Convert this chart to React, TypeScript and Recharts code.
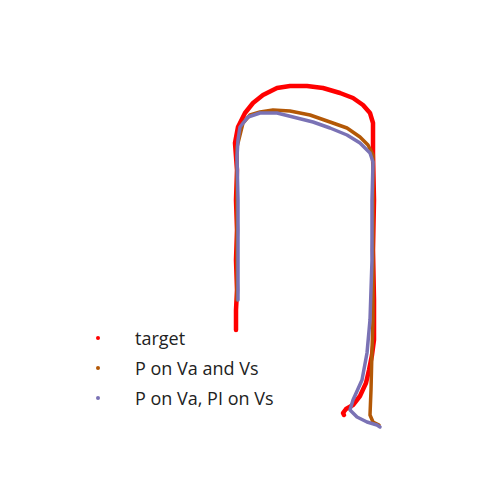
import React from 'react';
import { ScatterChart, Scatter, XAxis, YAxis } from 'recharts';

// Traced waypoints (image coordinates, y downwards)
const targetX = [236, 236, 237, 236, 237, 236, 237, 235, 238, 245, 253, 263, 277, 290, 307, 323, 340, 353, 363, 370, 373, 373, 373, 374, 373, 374, 374, 372, 369, 366, 360, 353, 346, 343, 344];
const targetY = [330, 310, 290, 260, 230, 200, 170, 143, 127, 113, 103, 95, 88, 86, 86, 88, 93, 98, 105, 113, 123, 137, 153, 200, 250, 300, 340, 355, 370, 383, 396, 405, 409, 413, 415];

const pVaVsX = [237, 237, 237, 237, 237, 243, 250, 260, 273, 290, 310, 330, 347, 360, 368, 373, 373, 373, 373, 372, 371, 370, 373, 379];
const pVaVsY = [300, 260, 220, 180, 147, 123, 115, 112, 110, 111, 115, 122, 128, 137, 145, 155, 200, 260, 320, 350, 390, 415, 422, 425];

const pPiX = [238, 238, 238, 237, 238, 240, 248, 260, 277, 293, 313, 330, 347, 360, 370, 373, 372, 372, 370, 367, 362, 353, 350, 357, 367, 377, 380];
const pPiY = [300, 260, 200, 157, 140, 127, 117, 113, 113, 117, 122, 128, 135, 143, 153, 162, 200, 260, 320, 353, 380, 400, 410, 417, 422, 425, 427];

const seriesNames = ['target', 'P on Va and Vs', 'P on Va, PI on Vs'];
const seriesColors = ['#ff0000', '#b35806', '#7a72b5'];

const toPoints = (xs: number[], ys: number[]) => xs.map((x, i) => ({ x, y: ys[i] }));

const target = toPoints(targetX, targetY);
const pVaVs = toPoints(pVaVsX, pVaVsY);
const pPi = toPoints(pPiX, pPiY);

const Empty = () => <g />;

const LegendBox = () => (
  <div
    style={{
      position: 'absolute',
      left: 88,
      top: 315,
      fontFamily: 'Open Sans, sans-serif',
      fontSize: 18,
      color: '#222',
    }}
  >
    {seriesNames.map((n, i) => (
      <div key={n} style={{ display: 'flex', alignItems: 'center', height: 30 }}>
        <span
          style={{
            display: 'inline-block',
            width: 4,
            height: 4,
            borderRadius: 2,
            background: seriesColors[i],
            marginRight: 35,
          }}
        />
        <span>{n}</span>
      </div>
    ))}
  </div>
);

export default function App() {
  return (
    <div style={{ width: 472, height: 472, position: 'relative' }}>
      <ScatterChart width={472} height={472} margin={{ top: 0, right: 0, bottom: 0, left: 0 }}>
        <XAxis type="number" dataKey="x" domain={[8, 480]} hide allowDataOverflow />
        <YAxis type="number" dataKey="y" domain={[8, 480]} reversed hide allowDataOverflow />
        <Scatter
          name={seriesNames[0]}
          data={target}
          line={{ stroke: seriesColors[0], strokeWidth: 4.5, strokeLinejoin: 'round', strokeLinecap: 'round' }}
          lineType="joint"
          shape={<Empty />}
          isAnimationActive={false}
        />
        <Scatter
          name={seriesNames[1]}
          data={pVaVs}
          line={{ stroke: seriesColors[1], strokeWidth: 3.5, strokeLinejoin: 'round', strokeLinecap: 'round' }}
          lineType="joint"
          shape={<Empty />}
          isAnimationActive={false}
        />
        <Scatter
          name={seriesNames[2]}
          data={pPi}
          line={{ stroke: seriesColors[2], strokeWidth: 3.5, strokeLinejoin: 'round', strokeLinecap: 'round' }}
          lineType="joint"
          shape={<Empty />}
          isAnimationActive={false}
        />
      </ScatterChart>
      <LegendBox />
    </div>
  );
}
